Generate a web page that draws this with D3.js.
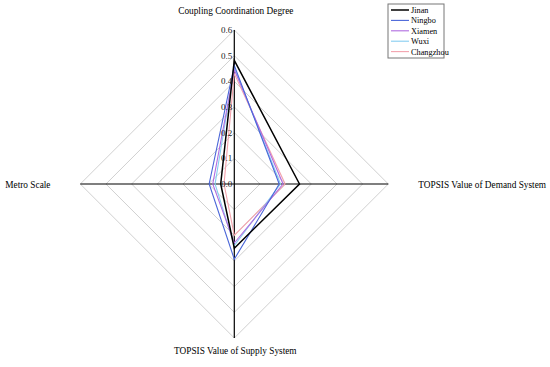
<!DOCTYPE html>
<html>
<head>
<meta charset="utf-8">
<script src="https://cdn.jsdelivr.net/npm/d3@7"></script>
<style>
  body { margin: 0; background: #fff; }
  text { font-family: "Liberation Serif", "Times New Roman", serif; }
</style>
</head>
<body>
<div id="elements"></div>
<script>
// axes in clockwise order, starting at the top
var axes = ["Coupling Coordination Degree", "TOPSIS Value of Demand System",
            "TOPSIS Value of Supply System", "Metro Scale"];
var cities = ["Jinan", "Ningbo", "Xiamen", "Wuxi", "Changzhou"];
var jinan     = [0.482, 0.254, 0.250, 0.053];
var ningbo    = [0.462, 0.175, 0.293, 0.098];
var xiamen    = [0.445, 0.190, 0.230, 0.084];
var wuxi      = [0.455, 0.180, 0.240, 0.075];
var changzhou = [0.430, 0.198, 0.200, 0.040];
var ticks = [0, 0.1, 0.2, 0.3, 0.4, 0.5, 0.6];
var colors = ["#000000", "#4a66d8", "#b06ce0", "#86cdf0", "#f3a3ad"];

var series = [jinan, ningbo, xiamen, wuxi, changzhou];

var width = 550, height = 367;
var cx = 234.3, cy = 184, radius = 154;

var svg = d3.select("#elements").append("svg")
    .attr("width", width)
    .attr("height", height);

var r = d3.scaleLinear().domain([0, 0.6]).range([0, radius]);
var angle = function(i) { return i * Math.PI / 2; };

var g = svg.append("g").attr("transform", "translate(" + cx + "," + cy + ")");

// grid diamonds
g.append("g").attr("class", "grid")
    .selectAll("path")
    .data(ticks.slice(1))
    .enter().append("path")
    .attr("d", function(t) {
        return d3.lineRadial().angle(function(d, i) { return angle(i); })
            .radius(r(t)).curve(d3.curveLinearClosed)(axes);
    })
    .attr("fill", "none")
    .attr("stroke", "#c4c4c4")
    .attr("stroke-width", 0.8);

// spokes
g.append("g").selectAll("line")
    .data(axes)
    .enter().append("line")
    .attr("x1", 0).attr("y1", 0)
    .attr("x2", function(d, i) { return r(0.6) * Math.sin(angle(i)); })
    .attr("y2", function(d, i) { return -r(0.6) * Math.cos(angle(i)); })
    .attr("stroke", "#000")
    .attr("stroke-width", 1.2);

// series, drawn back to front so Jinan sits on top
var radial = d3.lineRadial()
    .angle(function(d, i) { return angle(i); })
    .radius(function(d) { return r(d); })
    .curve(d3.curveLinearClosed);

g.append("g").selectAll("path")
    .data(series.slice().reverse())
    .enter().append("path")
    .attr("d", radial)
    .attr("fill", "none")
    .attr("stroke", function(d, i) { return colors[series.length - 1 - i]; })
    .attr("stroke-width", function(d, i) { return i == series.length - 1 ? 1.5 : 1.1; });

// tick labels on the top spoke
g.append("g").selectAll("text")
    .data(ticks)
    .enter().append("text")
    .attr("x", -2)
    .attr("y", function(d) { return -r(d) + 3; })
    .attr("text-anchor", "end")
    .attr("font-size", 9)
    .attr("fill", "#222")
    .text(function(d) { return d.toFixed(1); });

// axis titles
var titlePos = [[1.5, -170, "middle"], [184, 3.5, "start"], [1, 170, "middle"], [-229, 3.5, "start"]];
g.append("g").selectAll("text")
    .data(axes)
    .enter().append("text")
    .attr("x", function(d, i) { return titlePos[i][0]; })
    .attr("y", function(d, i) { return titlePos[i][1]; })
    .attr("text-anchor", function(d, i) { return titlePos[i][2]; })
    .attr("font-size", 9.3)
    .attr("fill", "#000")
    .text(function(d) { return d; });

// legend
var legend = svg.append("g").attr("transform", "translate(388,4)");
legend.append("rect")
    .attr("width", 56).attr("height", 54)
    .attr("fill", "#fff")
    .attr("stroke", "#777")
    .attr("stroke-width", 1);

var rows = legend.selectAll("g.row")
    .data(cities)
    .enter().append("g")
    .attr("class", "row")
    .attr("transform", function(d, i) { return "translate(0," + (6 + i * 10.4) + ")"; });

rows.append("line")
    .attr("x1", 3).attr("x2", 21)
    .attr("stroke", function(d, i) { return colors[i]; })
    .attr("stroke-width", function(d, i) { return i == 0 ? 1.5 : 1.1; });

rows.append("text")
    .attr("x", 23)
    .attr("y", 3)
    .attr("font-size", 8.3)
    .text(function(d) { return d; });
</script>
</body>
</html>
